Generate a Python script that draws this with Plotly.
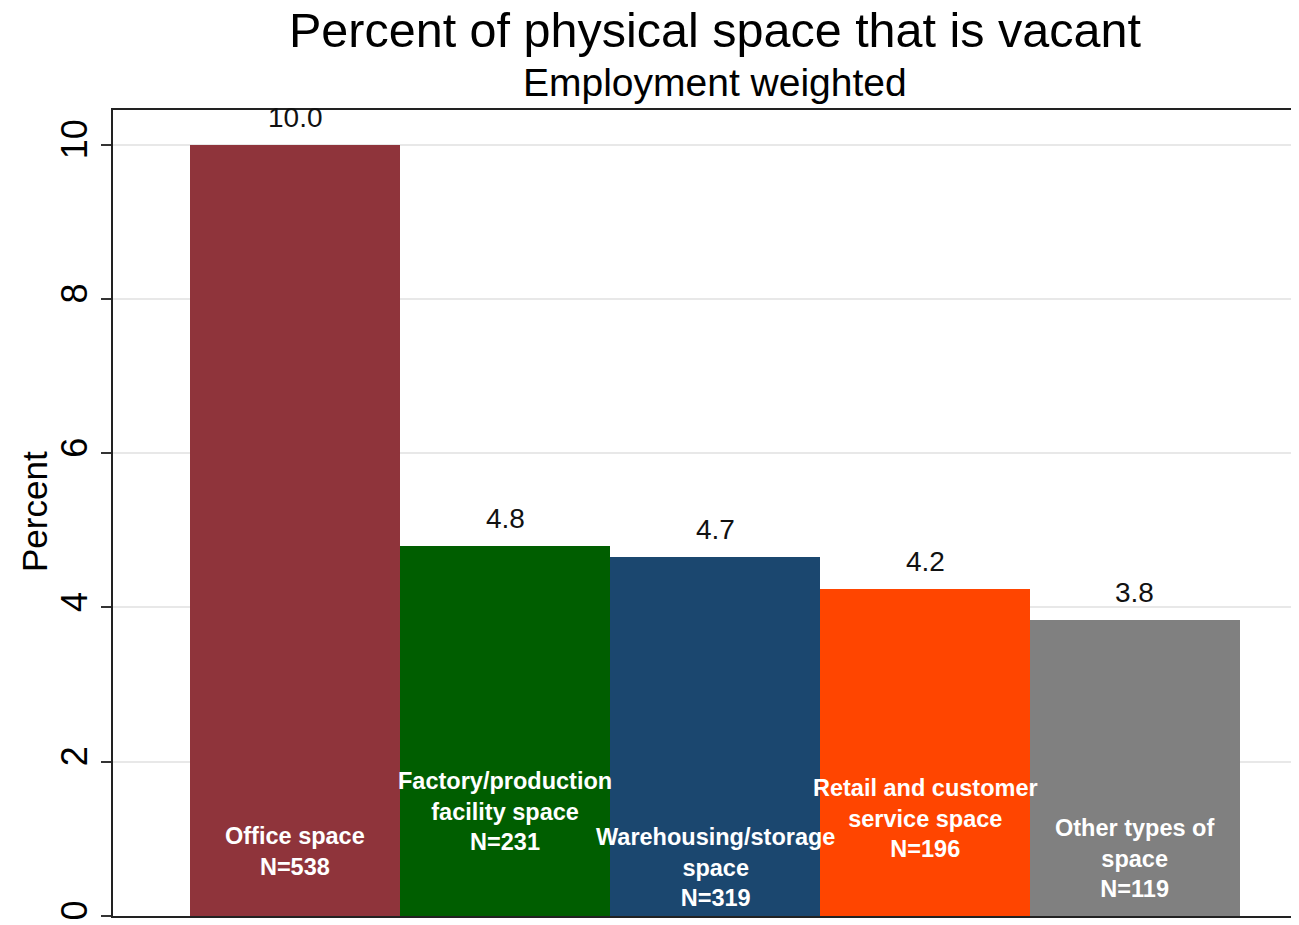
import plotly.graph_objects as go

# ---- data ----
categories = ["Office space", "Factory/production<br>facility space", "Warehousing/storage<br>space",
              "Retail and customer<br>service space", "Other types of<br>space"]
counts = [538, 231, 319, 196, 119]
values = [10.0, 4.8, 4.66, 4.24, 3.84]
colors = ["#8F343B", "#005E00", "#1B476F", "#FF4500", "#808080"]
# vertical position (data units) of in-bar label blocks
label_pos = [0.83, 1.36, 0.63, 1.26, 0.74]

xs = list(range(len(values)))

fig = go.Figure()
fig.add_trace(go.Bar(
    x=xs, y=values, width=1.0,
    marker=dict(color=colors, line=dict(width=0)),
    hoverinfo="skip",
))

ann = []
for i, v in enumerate(values):
    ann.append(dict(x=i, y=v, xref="x", yref="y", text=f"{v:.1f}", showarrow=False,
                    yanchor="bottom", yshift=10,
                    font=dict(family="Liberation Sans, Arial", size=28, color="#111111")))
    ann.append(dict(x=i, y=label_pos[i], xref="x", yref="y",
                    text=f"{categories[i]}<br>N={counts[i]}", showarrow=False,
                    yanchor="middle", align="center",
                    font=dict(family="Liberation Sans, Arial", size=23.5, color="white", weight="bold")))

PW, PH = 1186, 806
cx = (715 - 113) / PW
ann.append(dict(x=cx, y=1 + (110 - 30) / PH, xref="paper", yref="paper",
                text="Percent of physical space that is vacant", showarrow=False,
                yanchor="middle", font=dict(family="Liberation Sans, Arial", size=48.5, color="#000000")))
ann.append(dict(x=cx, y=1 + (110 - 83) / PH, xref="paper", yref="paper",
                text="Employment weighted", showarrow=False,
                yanchor="middle", font=dict(family="Liberation Sans, Arial", size=39, color="#000000")))
ann.append(dict(x=(34 - 113) / PW, y=(916 - 512) / PH, xref="paper", yref="paper",
                text="Percent", showarrow=False, textangle=-90,
                xanchor="center", yanchor="middle",
                font=dict(family="Liberation Sans, Arial", size=35, color="#000000")))

fig.update_layout(
    width=1291, height=917,
    margin=dict(l=105, r=0, t=102, b=9),
    paper_bgcolor="white", plot_bgcolor="white",
    bargap=0, showlegend=False,
    annotations=ann,
    xaxis=dict(range=[-0.8667, 4.781], showticklabels=False, ticks="", showgrid=False,
               zeroline=False, showline=True, linecolor="#222222", linewidth=2, mirror=True),
    yaxis=dict(range=[0, 10.45], tickvals=[0, 2, 4, 6, 8, 10], tickangle=-90,
               ticks="outside", ticklen=10, tickwidth=2, tickcolor="#333333",
               tickfont=dict(family="Liberation Sans, Arial", size=36, color="#000000"),
               showgrid=True, gridcolor="#E8E8E8", gridwidth=2, zeroline=False,
               showline=True, linecolor="#222222", linewidth=2),
)

fig.write_html("out.html")
